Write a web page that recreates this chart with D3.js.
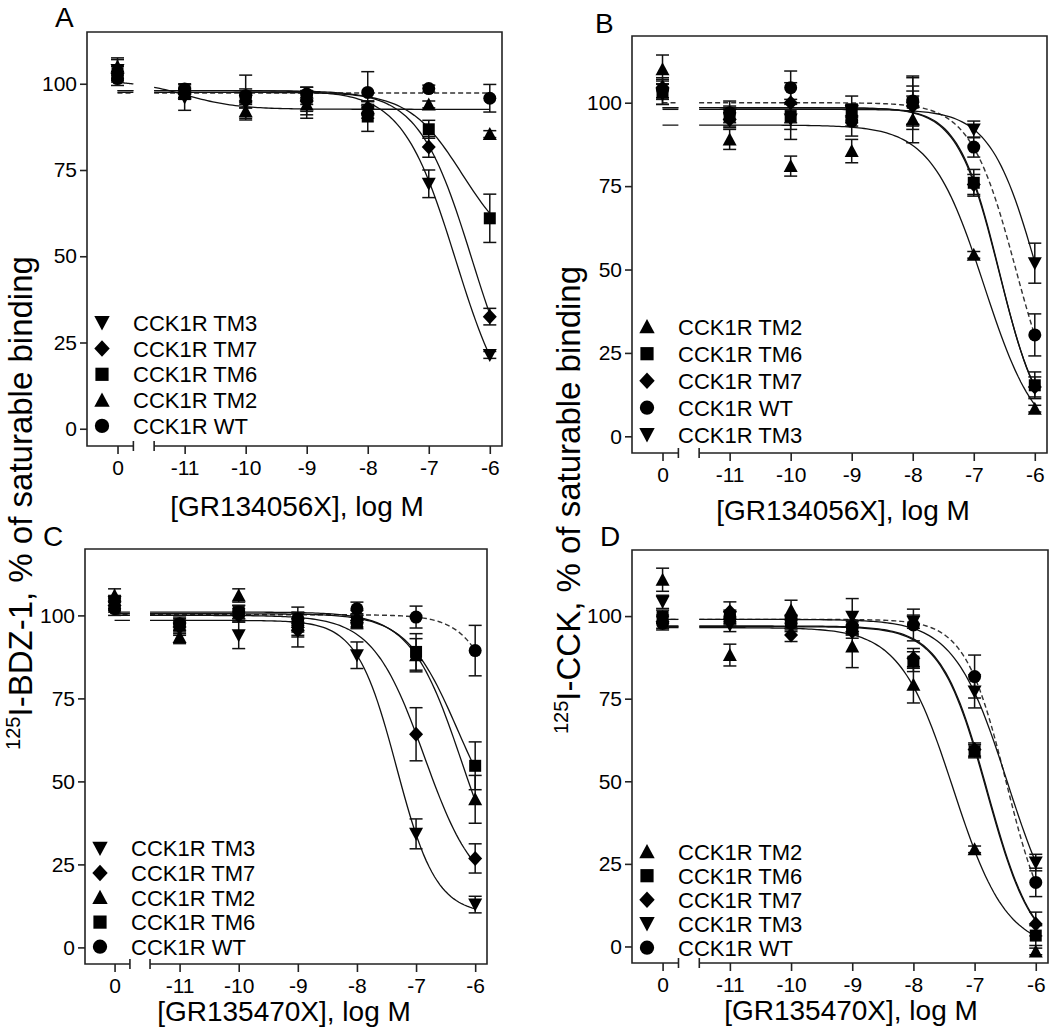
<!DOCTYPE html>
<html><head><meta charset="utf-8">
<script src="https://cdn.jsdelivr.net/npm/d3@7"></script>
<style>
body{margin:0;background:#fff}
svg{display:block}
text{font-family:"Liberation Sans",Arial,sans-serif;fill:#000}
</style>
</head><body>
<svg id="c" width="1050" height="1030"></svg>
<script>
// ---------------- DATA ----------------
const seriesLabels = ["CCK1R WT","CCK1R TM2","CCK1R TM3","CCK1R TM6","CCK1R TM7"];
const seriesShapes = ["circle","triUp","triDown","square","diamond"];
const doseLabels = ["0","-11","-10","-9","-8","-7","-6"];
const doseLog = [null,-11,-10,-9,-8,-7,-6];
const yTicks = [0,25,50,75,100];
const xTitles = ["[GR134056X], log M","[GR134056X], log M","[GR135470X], log M","[GR135470X], log M"];
const yTitles = ["I-BDZ-1, % of saturable binding","I-CCK, % of saturable binding"];
const panelLetters = ["A","B","C","D"];

// Rows follow seriesLabels order: WT, TM2, TM3, TM6, TM7 ; columns follow doseLabels
const A_mean = [
  [101.5, 98.5, 96.5, 97.0, 97.5, 98.6, 95.8],
  [105.0, 97.5, 92.0, 94.0, 93.0, 94.0, 85.4],
  [104.0, 96.0, 95.0, 94.0, 92.0, 71.0, 21.4],
  [103.0, 97.0, 96.0, 96.0, 90.5, 86.8, 61.0],
  [103.0, 97.0, 95.0, 95.0, 93.0, 81.7, 32.5]
];
const A_sem = [
  [2, 1.5, 2, 2, 6, 1, 4],
  [2.5, 1.5, 2, 4, 2, 1, 1],
  [3, 3.7, 2, 2, 2, 4, 1],
  [2.5, 1.5, 6.5, 2, 4.3, 2.6, 7],
  [2, 1.5, 2, 4, 2, 3, 2.4]
];
// fit rows: [top, bottom, logIC50, hill]
const A_fit = [
  [97.3, 97.3, -6.0, 1],
  [101, 92.6, -11.0, 1],
  [98, 0, -6.56, 1],
  [97.5, 50, -6.45, 1],
  [98, 0, -6.29, 1]
];
const A_legend = [2,4,3,1,0];

const B_mean = [
  [104.0, 97.0, 104.5, 94.5, 100.5, 86.7, 30.4],
  [110.0, 89.0, 81.0, 85.5, 95.0, 54.4, 8.3],
  [102.5, 96.5, 95.0, 97.5, 98.5, 92.0, 51.9],
  [103.0, 96.0, 96.0, 98.0, 100.0, 76.0, 15.3],
  [104.5, 95.0, 100.0, 96.0, 99.0, 75.5, 14.8]
];
const B_sem = [
  [3, 2, 5, 4.5, 7, 3, 6.3],
  [4.3, 3, 3, 3.5, 7, 1, 1],
  [3, 4, 6, 2, 5, 2.5, 6],
  [3.5, 2, 4, 4, 8, 4, 4],
  [3, 2, 6, 3, 6, 3, 3]
];
const B_fit = [
  [100, 0, -6.31, 1.17],
  [93.3, -3, -6.83, 1],
  [98, 0, -5.95, 1.13],
  [98.5, 0, -6.585, 1.275],
  [98.5, 0, -6.58, 1.3]
];
const B_legend = [1,3,4,0,2];

const C_mean = [
  [102.0, 97.5, 101.0, 99.0, 102.0, 99.5, 89.4],
  [106.0, 93.5, 106.0, 98.0, 99.5, 88.0, 44.6],
  [104.0, 96.0, 94.0, 96.0, 88.0, 34.2, 12.9],
  [103.5, 97.0, 101.0, 97.0, 98.0, 89.0, 54.7],
  [103.0, 96.5, 100.0, 95.5, 98.5, 64.2, 26.8]
];
const C_sem = [
  [2, 2, 2, 2, 2, 3.3, 7.6],
  [2, 2, 2, 4.5, 2, 5, 7.2],
  [2, 2, 4, 2, 4, 4.5, 2.5],
  [2, 2, 2, 2, 2, 5.5, 7.2],
  [2, 2, 2, 5, 2, 8, 4.4]
];
const C_fit = [
  [100.2, 0, -5.256, 1.234],
  [101, 10, -6.22, 1],
  [98.5, 10, -7.33, 1.3],
  [100.5, 30, -6.29, 1],
  [100, 15, -6.86, 1]
];
const C_legend = [2,4,1,3,0];

const D_mean = [
  [97.8, 99.8, 97.8, 96.8, 97.3, 81.7, 19.4],
  [111.0, 88.2, 101.8, 90.8, 79.2, 29.4, -1.5],
  [104.3, 97.3, 97.3, 99.8, 98.3, 77.2, 25.4],
  [99.8, 99.3, 98.3, 96.3, 86.2, 59.1, 3.3],
  [98.3, 101.3, 94.3, 95.3, 87.2, 59.6, 6.8]
];
const D_sem = [
  [2, 2, 2, 2, 4.8, 6.5, 4.3],
  [3.5, 3.3, 3, 6.4, 5.5, 1, 1],
  [2, 2, 2, 5.5, 2, 5, 2.5],
  [2, 2, 2, 2, 3, 2, 3],
  [2, 3, 2, 2, 3, 2, 3.6]
];
const D_fit = [
  [99, 0, -6.48, 1.29],
  [96.5, -1, -7.35, 1],
  [99, 0, -6.46, 1],
  [96.8, -3, -6.8, 1.15],
  [97, -3, -6.79, 1.15]
];
const D_legend = [1,3,4,2,0];

// ---------------- LAYOUT ----------------
const ZERO_POS = -12.1, BREAK_L = -11.84, BREAK_R = -11.5;
const panels = [
  {mean:A_mean, sem:A_sem, fit:A_fit, order:A_legend, left:87, top:32, w:415, h:414, yMin:-5, yMax:115, legTop:322.7, legStep:25.8, lx:55, ly:27, tx:297, ty:516},
  {mean:B_mean, sem:B_sem, fit:B_fit, order:B_legend, left:632, top:36, w:415, h:417, yMin:-5, yMax:120, legTop:326.7, legStep:27, lx:595, ly:33, tx:843, ty:520},
  {mean:C_mean, sem:C_sem, fit:C_fit, order:C_legend, left:85, top:549, w:402, h:415, yMin:-5, yMax:120, legTop:848.3, legStep:24.6, lx:43, ly:546, tx:284, ty:1021},
  {mean:D_mean, sem:D_sem, fit:D_fit, order:D_legend, left:632, top:550, w:416, h:413, yMin:-5, yMax:120, legTop:851.7, legStep:24, lx:600, ly:546, tx:851, ty:1020}
];

const svg = d3.select("#c");
const STROKE = "#222";

function shapePath(shape, s) {
  switch (shape) {
    case "circle": { const r = 6.5*s; return `M${r},0A${r},${r} 0 1,1 ${-r},0A${r},${r} 0 1,1 ${r},0Z`; }
    case "square": { const a = 6*s; return `M${-a},${-a}H${a}V${a}H${-a}Z`; }
    case "triUp": { const w = 7*s, hh = 6*s; return `M0,${-hh-1*s}L${w},${hh}L${-w},${hh}Z`; }
    case "triDown": { const w = 7*s, hh = 6*s; return `M0,${hh+1*s}L${w},${-hh}L${-w},${-hh}Z`; }
    case "diamond": { const w = 7*s, hh = 7.5*s; return `M0,${-hh}L${w},0L0,${hh}L${-w},0Z`; }
  }
}
function sig(p, lx) { return p[1] + (p[0]-p[1]) / (1 + Math.pow(10, (lx - p[2]) * p[3])); }

panels.forEach((P, pi) => {
  const g = svg.append("g");
  const x = d3.scaleLinear().domain([-12.6, -5.8]).range([P.left, P.left + P.w]);
  const y = d3.scaleLinear().domain([P.yMin, P.yMax]).range([P.top + P.h, P.top]);
  const bottom = P.top + P.h;
  const xPos = i => doseLog[i] === null ? x(ZERO_POS) : x(doseLog[i]);

  const clipId = "clip" + pi;
  svg.append("clipPath").attr("id", clipId).append("rect")
    .attr("x", P.left).attr("y", P.top).attr("width", P.w).attr("height", P.h);

  // frame
  const fr = g.append("g").attr("stroke", STROKE).attr("stroke-width", 1.6).attr("fill", "none");
  fr.append("path").attr("d", `M${x(BREAK_L)},${bottom}H${P.left}V${P.top}H${P.left+P.w}V${bottom}H${x(BREAK_R)}`);
  [BREAK_L, BREAK_R].forEach(b => fr.append("line").attr("x1", x(b)).attr("x2", x(b)).attr("y1", bottom-5).attr("y2", bottom+5));

  // y axis
  const ya = g.append("g").attr("transform", `translate(${P.left},0)`)
    .call(d3.axisLeft(y).tickValues(yTicks).tickSize(7).tickPadding(3));
  ya.select(".domain").remove();
  ya.selectAll("line").attr("stroke", STROKE).attr("stroke-width", 1.6);
  ya.selectAll("text").attr("font-size", 21).attr("font-family", '"Liberation Sans",Arial,sans-serif').attr("fill", "#111");

  // x axis (broken): zero segment and log segment
  const xaR = g.append("g").attr("transform", `translate(0,${bottom})`)
    .call(d3.axisBottom(x).tickValues(doseLog.slice(1)).tickFormat((d, i) => doseLabels[i+1]).tickSize(8).tickPadding(6));
  const xaL = g.append("g").attr("transform", `translate(0,${bottom})`)
    .call(d3.axisBottom(x).tickValues([ZERO_POS]).tickFormat(() => doseLabels[0]).tickSize(8).tickPadding(6));
  [xaR, xaL].forEach(a => {
    a.select(".domain").remove();
    a.selectAll("line").attr("stroke", STROKE).attr("stroke-width", 1.6);
    a.selectAll("text").attr("font-size", 21).attr("font-family", '"Liberation Sans",Arial,sans-serif').attr("fill", "#111");
  });

  // curves
  const line = d3.line().x(d => x(d[0])).y(d => y(d[1]));
  const curves = g.append("g").attr("clip-path", `url(#${clipId})`);
  P.fit.forEach((p, si) => {
    [[ZERO_POS, BREAK_L], [BREAK_R, -6]].forEach(([a, b]) => {
      const pts = d3.range(a, b + 1e-9, (b - a) / 120).map(lx => [lx, sig(p, lx)]);
      curves.append("path").attr("d", line(pts)).attr("fill", "none")
        .attr("stroke", si === 0 ? "#333" : "#111").attr("stroke-width", si === 0 ? 1.4 : 1.3)
        .attr("stroke-dasharray", si === 0 ? "5,3" : null);
    });
  });

  // error bars
  const eb = g.append("g").attr("stroke", "#111").attr("stroke-width", 1.5);
  P.mean.forEach((row, si) => row.forEach((m, i) => {
    const s = P.sem[si][i], cx = xPos(i);
    const y1 = y(m - s), y2 = y(m + s);
    eb.append("line").attr("x1", cx).attr("x2", cx).attr("y1", y1).attr("y2", y2);
    eb.append("line").attr("x1", cx-6.5).attr("x2", cx+6.5).attr("y1", y1).attr("y2", y1);
    eb.append("line").attr("x1", cx-6.5).attr("x2", cx+6.5).attr("y1", y2).attr("y2", y2);
  }));

  // markers
  const mk = g.append("g").attr("fill", "#000");
  P.mean.forEach((row, si) => row.forEach((m, i) => {
    mk.append("path").attr("d", shapePath(seriesShapes[si], 1))
      .attr("transform", `translate(${xPos(i)},${y(m)})`);
  }));

  // legend
  const lg = g.append("g");
  P.order.forEach((si, k) => {
    const ry = P.legTop + k * P.legStep;
    lg.append("path").attr("d", shapePath(seriesShapes[si], 1.1)).attr("fill", "#000")
      .attr("transform", `translate(${P.left + 15},${ry})`);
    lg.append("text").attr("x", P.left + 46).attr("y", ry + 8).attr("font-size", 22).text(seriesLabels[si]);
  });

  // panel letter
  g.append("text").attr("x", P.lx).attr("y", P.ly).attr("font-size", 28).text(panelLetters[pi]);
  // x title
  g.append("text").attr("x", P.tx).attr("y", P.ty).attr("text-anchor", "middle").attr("font-size", 28).text(xTitles[pi]);
});

// y titles
function yTitle(xb, yc, label) {
  const t = svg.append("text").attr("transform", `translate(${xb},${yc}) rotate(-90)`)
    .attr("text-anchor", "middle").attr("font-size", 33);
  t.append("tspan").attr("font-size", 20).attr("dy", -12).text("125");
  t.append("tspan").attr("dy", 12).text(label);
}
yTitle(32, 503, yTitles[0]);
yTitle(580, 500, yTitles[1]);
</script>
</body></html>
